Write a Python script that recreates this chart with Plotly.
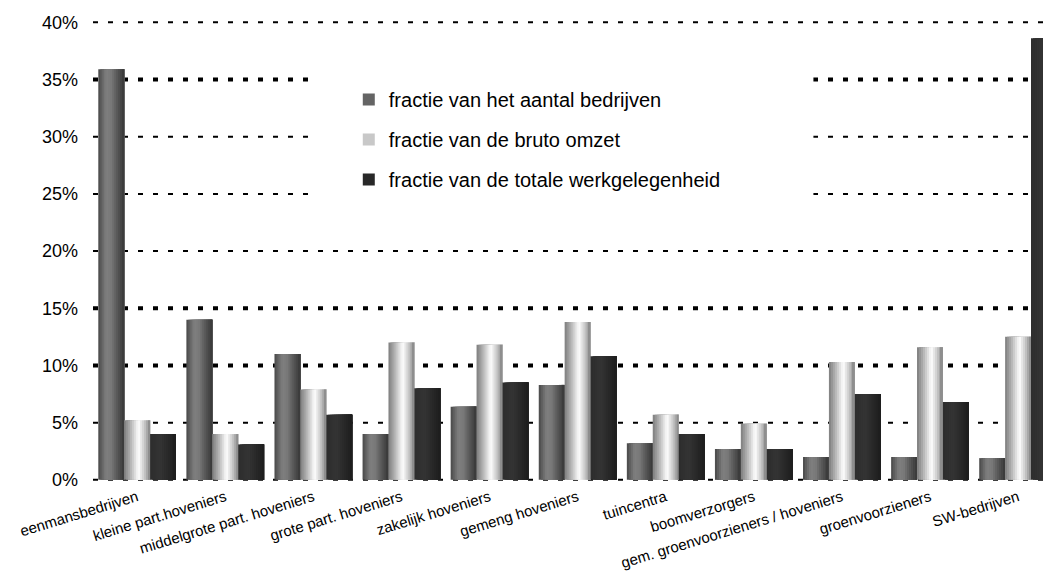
import plotly.graph_objects as go

categories = [
    "eenmansbedrijven", "kleine part.hoveniers", "middelgrote part. hoveniers",
    "grote part. hoveniers", "zakelijk hoveniers", "gemeng hoveniers",
    "tuincentra", "boomverzorgers", "gem. groenvoorzieners / hoveniers",
    "groenvoorzieners", "SW-bedrijven",
]
aantal_bedrijven = [35.9, 14.0, 11.0, 4.0, 6.4, 8.3, 3.2, 2.7, 2.0, 2.0, 1.9]
bruto_omzet = [5.2, 4.0, 7.9, 12.0, 11.8, 13.8, 5.7, 4.9, 10.3, 11.6, 12.5]
werkgelegenheid = [4.0, 3.1, 5.7, 8.0, 8.5, 10.8, 4.0, 2.7, 7.5, 6.8, 38.6]
series_names = [
    "fractie van het aantal bedrijven",
    "fractie van de bruto omzet",
    "fractie van de totale werkgelegenheid",
]
y_ticks = [0, 5, 10, 15, 20, 25, 30, 35, 40]
y_ticktext = ["0%", "5%", "10%", "15%", "20%", "25%", "30%", "35%", "40%"]
thick_grid = [10, 15, 35]

# horizontal gradient profiles (style only)
profiles = [
    [(0.0, 72), (0.3, 128), (0.5, 120), (0.75, 85), (1.0, 55)],
    [(0.0, 125), (0.25, 180), (0.55, 255), (0.8, 195), (1.0, 130)],
    [(0.0, 45), (0.4, 52), (0.75, 38), (1.0, 28)],
]


def shade(profile, t):
    for (t0, v0), (t1, v1) in zip(profile, profile[1:]):
        if t0 <= t <= t1:
            v = int(round(v0 + (v1 - v0) * (t - t0) / (t1 - t0)))
            return f"rgb({v},{v},{v})"
    v = profile[-1][1]
    return f"rgb({v},{v},{v})"


N = 13
bar_w = 0.294
offsets = [-0.44, -0.146, 0.148]
legend_colors = ["rgb(100,100,100)", "rgb(200,200,200)", "rgb(40,40,40)"]

fig = go.Figure()
for s, (vals, name) in enumerate(zip([aantal_bedrijven, bruto_omzet, werkgelegenheid], series_names)):
    step = bar_w / N
    for k in range(N):
        t = (k + 0.5) / N
        fig.add_trace(go.Bar(
            x=categories, y=vals,
            offset=offsets[s] + k * step,
            width=bar_w - k * step,
            marker=dict(color=shade(profiles[s], t), line=dict(width=0)),
            name=name, legendgroup=name,
            showlegend=False, hoverinfo="skip",
        ))
    fig.add_trace(go.Bar(
        x=[categories[0]], y=[None], name=name, legendgroup=name,
        marker=dict(color=legend_colors[s], line=dict(width=0)),
        showlegend=True,
    ))

shapes = []
for yv in y_ticks:
    w = 4 if yv in thick_grid else 2
    shapes.append(dict(type="line", xref="paper", x0=0, x1=0.995, yref="y", y0=yv, y1=yv,
                       line=dict(color="black", width=w, dash="5px,10px"), layer="below"))
shapes.append(dict(type="rect", xref="paper", x0=0.233, x1=0.752, yref="paper", y0=0.58, y1=0.91,
                   fillcolor="white", line=dict(width=0), layer="below"))

# the page places the figure 8px from the top-left corner; margins compensate
fig.update_layout(
    width=1043, height=579,
    margin=dict(l=85, r=0, t=12, b=106),
    paper_bgcolor="white", plot_bgcolor="white",
    barmode="overlay",
    font=dict(family="Liberation Sans, Arial, sans-serif", color="black"),
    showlegend=True,
    legend=dict(
        x=0.267, y=0.87, xanchor="left", yanchor="top",
        bgcolor="rgba(0,0,0,0)", font=dict(size=20),
        tracegroupgap=11, traceorder="grouped",
    ),
    shapes=shapes,
)
fig.update_xaxes(
    type="category", range=[-0.5, 10.375], showgrid=False, showline=False, ticks="",
    tickangle=-17, tickfont=dict(size=15), ticklabelstandoff=4, automargin=False,
)
fig.update_yaxes(
    range=[-0.1, 40.2], tickvals=y_ticks, ticktext=y_ticktext,
    showgrid=False, zeroline=False, showline=False, ticks="",
    tickfont=dict(size=18), ticklabelstandoff=14, automargin=False,
)

fig.write_html("out.html")
